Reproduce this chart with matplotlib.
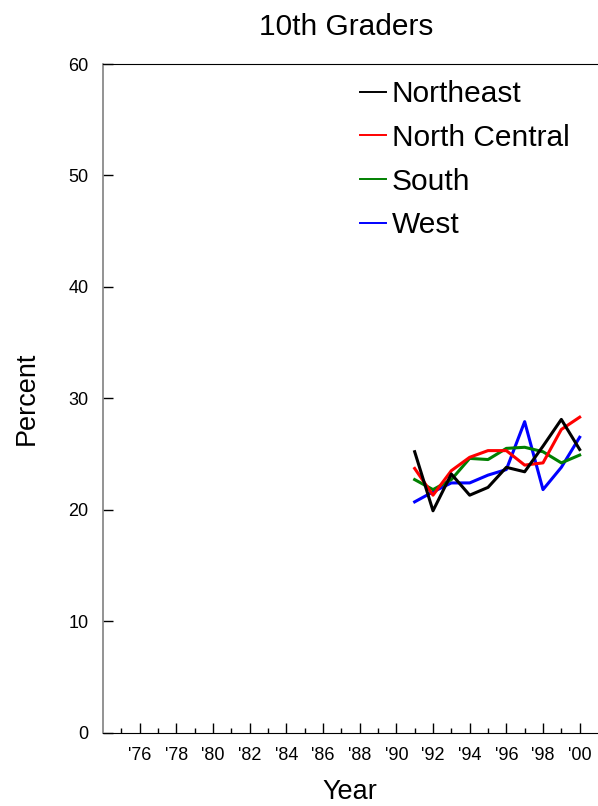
import matplotlib
matplotlib.use("Agg")
import matplotlib.pyplot as plt
from matplotlib.ticker import MultipleLocator, FixedLocator

plt.rcParams['font.family'] = ['Liberation Sans', 'DejaVu Sans']

years = [1991, 1992, 1993, 1994, 1995, 1996, 1997, 1998, 1999, 2000]
northeast = [25.2, 19.9, 23.2, 21.3, 22.0, 23.8, 23.4, 25.7, 28.1, 25.4]
north_central = [23.7, 21.3, 23.5, 24.7, 25.3, 25.3, 24.0, 24.2, 27.2, 28.3]
south = [22.7, 21.8, 22.7, 24.6, 24.5, 25.5, 25.6, 25.2, 24.2, 24.9]
west = [20.7, 21.6, 22.4, 22.4, 23.1, 23.6, 27.9, 21.8, 23.8, 26.5]

series_names = ["Northeast", "North Central", "South", "West"]
series_values = [northeast, north_central, south, west]
series_colors = ["#000000", "#ff0000", "#008000", "#0000ff"]

major_years = list(range(1976, 2001, 2))
tick_labels = ["'%02d" % (y % 100) for y in major_years]

fig = plt.figure(figsize=(5.98, 8.06), dpi=100)
ax = fig.add_axes([103 / 598, 1 - 732.5 / 806, 1 - 103 / 598, (732.5 - 64) / 806])

zorders = [5, 4, 3, 2]
handles = []
for name, vals, col, z in zip(series_names, series_values, series_colors, zorders):
    h, = ax.plot(years, vals, color=col, lw=2.2, label=name, zorder=z)
    handles.append(h)

ax.set_xlim(1974, 2001)
ax.set_ylim(0, 60)
ax.xaxis.set_major_locator(FixedLocator(major_years))
ax.xaxis.set_minor_locator(FixedLocator(list(range(1975, 2001, 2))))
ax.set_xticklabels(tick_labels)
ax.yaxis.set_major_locator(MultipleLocator(10))

ax.tick_params(axis='x', which='major', direction='in', length=7.2, width=1, labelsize=13, pad=10.5, color='black')
ax.tick_params(axis='x', which='minor', direction='in', length=3.6, width=1, color='black')
ax.tick_params(axis='y', which='major', direction='in', length=7.2, width=1, labelsize=13, pad=10.5, color='black')

ax.spines['right'].set_visible(False)
ax.spines['left'].set_color('#808080')
ax.spines['left'].set_linewidth(1.2)
ax.spines['top'].set_color('black')
ax.spines['bottom'].set_color('black')

fig.text(346 / 598, 1 - 27 / 806, "10th Graders", ha='center', va='center', fontsize=21.5)
fig.text(27 / 598, 1 - 398 / 806, "Percent", ha='center', va='center', rotation=90, fontsize=19.5)
fig.text(350 / 598, 1 - 792 / 806, "Year", ha='center', va='center', fontsize=19.5)

leg = ax.legend(handles=handles, loc='upper left', bbox_to_anchor=(360 / 598, 1 - 80 / 806),
                bbox_transform=fig.transFigure, frameon=False, fontsize=21.5,
                handlelength=0.87, handletextpad=0.2, labelspacing=0.53, borderpad=0, borderaxespad=0)
for line in leg.get_lines():
    line.set_linewidth(1.4)

fig.savefig("out.png", dpi=100)
